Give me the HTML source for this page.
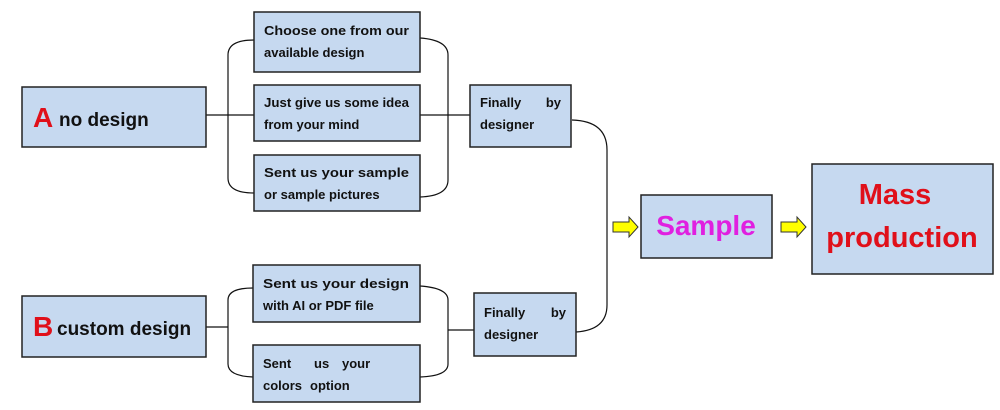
<!DOCTYPE html>
<html><head><meta charset="utf-8"><style>
html,body{margin:0;padding:0;background:#fff;}
svg{display:block;}
text{font-family:"Liberation Sans",sans-serif;font-weight:bold;}
.b{fill:#c6d9f0;stroke:#222;stroke-width:1.5;}
.l{fill:none;stroke:#111;stroke-width:1.2;}
.s{font-size:13px;fill:#111;}
</style></head><body>
<svg width="1000" height="410" viewBox="0 0 1000 410" xmlns="http://www.w3.org/2000/svg">
<path class="l" d="M206 115 H254"/>
<path class="l" d="M254 40 Q228 40 228 55 V178 Q228 193 254 193"/>
<path class="l" d="M420 38 Q448 40 448 55 V180 Q448 196 420 197"/>
<path class="l" d="M420 115 H470"/>
<path class="l" d="M206 327 H228"/>
<path class="l" d="M253 288 Q228 288 228 300 V364 Q228 376 253 377"/>
<path class="l" d="M420 286 Q448 288 448 300 V364 Q448 376 420 377"/>
<path class="l" d="M448 330 H474"/>
<path class="l" d="M572 120 Q607 121 607 150 V305 Q607 330 576 332"/>
<rect class="b" x="22" y="87" width="184" height="60"/>
<text x="33" y="127" font-size="28" fill="#e0101a">A</text>
<text x="59" y="126" font-size="19" fill="#111">no design</text>
<rect class="b" x="254" y="12" width="166" height="60"/>
<text class="s" x="264" y="35" textLength="145" lengthAdjust="spacingAndGlyphs">Choose one from our</text>
<text class="s" x="264" y="57">available design</text>
<rect class="b" x="254" y="85" width="166" height="56"/>
<text class="s" x="264" y="107" textLength="145" lengthAdjust="spacingAndGlyphs">Just give us some idea</text>
<text class="s" x="264" y="129">from your mind</text>
<rect class="b" x="254" y="155" width="166" height="56"/>
<text class="s" x="264" y="177" textLength="145" lengthAdjust="spacingAndGlyphs">Sent us your sample</text>
<text class="s" x="264" y="199">or sample pictures</text>
<rect class="b" x="470" y="85" width="101" height="62"/>
<text class="s" x="480" y="107">Finally</text>
<text class="s" x="561" y="107" text-anchor="end">by</text>
<text class="s" x="480" y="129">designer</text>
<rect class="b" x="22" y="296" width="184" height="61"/>
<text x="33" y="336" font-size="28" fill="#e0101a">B</text>
<text x="57" y="335" font-size="19" fill="#111">custom design</text>
<rect class="b" x="253" y="265" width="167" height="57"/>
<text class="s" x="263" y="288" textLength="146" lengthAdjust="spacingAndGlyphs">Sent us your design</text>
<text class="s" x="263" y="310">with AI or PDF file</text>
<rect class="b" x="253" y="345" width="167" height="57"/>
<text class="s" x="263" y="368">Sent</text>
<text class="s" x="314" y="368">us</text>
<text class="s" x="342" y="368">your</text>
<text class="s" x="263" y="390">colors</text>
<text class="s" x="310" y="390">option</text>
<rect class="b" x="474" y="293" width="102" height="63"/>
<text class="s" x="484" y="317">Finally</text>
<text class="s" x="566" y="317" text-anchor="end">by</text>
<text class="s" x="484" y="339">designer</text>
<path d="M613 222 H629 V217 L638 227 L629 237 V232 H613 Z" fill="#ffff00" stroke="#333" stroke-width="1"/>
<path d="M781 222 H797 V217 L806 227 L797 237 V232 H781 Z" fill="#ffff00" stroke="#333" stroke-width="1"/>
<rect class="b" x="641" y="195" width="131" height="63"/>
<text x="706" y="235" font-size="28" fill="#e020e0" text-anchor="middle">Sample</text>
<rect class="b" x="812" y="164" width="181" height="110"/>
<text x="895" y="204" font-size="29" fill="#e0101a" text-anchor="middle">Mass</text>
<text x="902" y="247" font-size="29" fill="#e0101a" text-anchor="middle">production</text>
</svg>
</body></html>
